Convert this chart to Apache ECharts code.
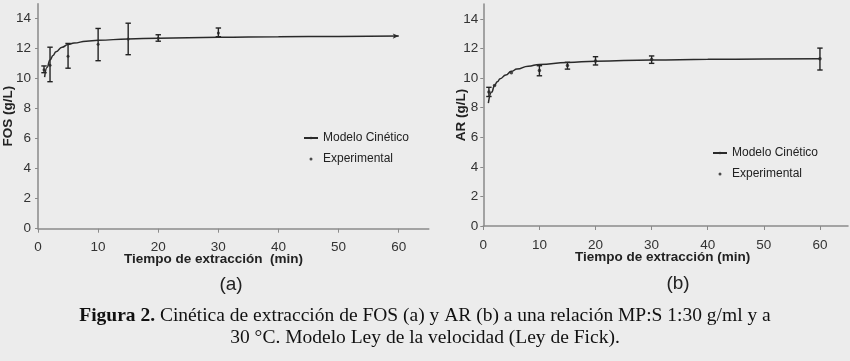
<!DOCTYPE html>
<html>
<head>
<meta charset="utf-8">
<script src="https://cdn.jsdelivr.net/npm/echarts@6/dist/echarts.min.js"></script>
<style>
  html, body { margin: 0; padding: 0; background: #ececec; }
  #main { width: 850px; height: 361px; }
</style>
</head>
<body>
<div id="main"></div>
<script>
// (a) FOS - tiempos (min) y curva del modelo
var tModel = [1.1, 1.5, 2, 2.5, 3, 4, 5, 6, 8, 10, 15, 20, 30, 40, 50, 60];
var fosModel = [10.1, 10.75, 11.25, 11.55, 11.8, 12.1, 12.28, 12.38, 12.5, 12.56, 12.65, 12.7, 12.76, 12.8, 12.82, 12.84];
var fosT = [1, 2, 5, 10, 15, 20, 30];
var fosMean = [10.6, 10.9, 11.5, 12.3, 12.65, 12.7, 13.05];
var fosLow = [10.4, 9.8, 10.7, 11.2, 11.6, 12.5, 12.8];
var fosHigh = [10.85, 12.1, 12.35, 13.35, 13.7, 12.93, 13.38];
// (b) AR
var tModelB = [0.9, 1.5, 2, 2.5, 3, 4, 5, 6, 8, 10, 15, 20, 30, 40, 50, 60];
var arModel = [8.3, 9.05, 9.5, 9.75, 9.95, 10.2, 10.45, 10.6, 10.8, 10.92, 11.05, 11.13, 11.22, 11.26, 11.28, 11.3];
var arT = [1, 2, 5, 10, 15, 20, 30, 60];
var arMean = [9.05, 9.5, 10.35, 10.5, 10.85, 11.15, 11.25, 11.3];
var arLow = [8.75, null, null, 10.15, 10.6, 10.88, 10.99, 10.54];
var arHigh = [9.37, null, null, 10.83, 11.06, 11.44, 11.49, 12.02];
// ejes
var xTicks = [0, 10, 20, 30, 40, 50, 60];
var yTicks = [0, 2, 4, 6, 8, 10, 12, 14];

var font = 'Arial, "Liberation Sans", sans-serif';
var serif = '"Times New Roman", "Liberation Serif", serif';
var txt = '#333';
var axisCol = '#8a8a8a';

function zip(a, b) {
    var out = [];
    for (var i = 0; i < a.length; i++) out.push([a[i], b[i]]);
    return out;
}
function modelData(t, v, arrow) {
    var d = zip(t, v);
    if (arrow) {
        var last = d.pop();
        d.push({ value: last, symbol: 'arrow', symbolSize: [4, 6], symbolRotate: -90 });
    }
    return d;
}
function errData(t, lo, hi) {
    var out = [];
    for (var i = 0; i < t.length; i++) {
        if (lo[i] != null) out.push([t[i], lo[i], hi[i]]);
    }
    return out;
}
//barras de error
function renderErr(params, api) {
    var p1 = api.coord([api.value(0), api.value(1)]);
    var p2 = api.coord([api.value(0), api.value(2)]);
    var c = 2.7;
    var st = { stroke: '#222', lineWidth: 1.4 };
    return {
        type: 'group',
        children: [
            { type: 'line', shape: { x1: p1[0], y1: p1[1], x2: p2[0], y2: p2[1] }, style: st },
            { type: 'line', shape: { x1: p1[0] - c, y1: p1[1], x2: p1[0] + c, y2: p1[1] }, style: st },
            { type: 'line', shape: { x1: p2[0] - c, y1: p2[1], x2: p2[0] + c, y2: p2[1] }, style: st }
        ]
    };
}

function xAxis(idx, namePad) {
    return {
        type: 'value', gridIndex: idx, min: 0, max: 65,
        name: 'Tiempo de extracción' + (idx == 0 ? '  (min)' : ' (min)'),
        nameLocation: 'middle', nameGap: 24, nameMoveOverlap: false,
        nameTextStyle: { fontFamily: font, fontSize: 13.5, fontWeight: 'bold', color: '#222', padding: namePad },
        axisLine: { lineStyle: { color: axisCol, width: 1.5 } },
        axisTick: { length: 4, lineStyle: { color: axisCol }, customValues: xTicks },
        axisLabel: { fontFamily: font, fontSize: 13.5, color: txt, margin: 12, customValues: xTicks },
        splitLine: { show: false }
    };
}
function yAxis(idx, name, margin, gap) {
    return {
        type: 'value', gridIndex: idx, min: 0, max: 15,
        name: name, nameLocation: 'middle', nameGap: gap, nameMoveOverlap: false,
        nameTextStyle: { fontFamily: font, fontSize: 13.5, fontWeight: 'bold', color: '#222' },
        axisLine: { show: true, lineStyle: { color: axisCol, width: 1.5 } },
        axisTick: { show: true, length: 3, lineStyle: { color: axisCol }, customValues: yTicks },
        axisLabel: { fontFamily: font, fontSize: 13.5, color: txt, margin: margin, customValues: yTicks },
        splitLine: { show: false }
    };
}
function legend(idx, left, top) {
    return {
        orient: 'vertical', left: left, top: top,
        itemWidth: 14, itemHeight: 3, itemGap: 7, padding: 0,
        data: idx == 0 ? ['Modelo Cinético', 'Experimental'] : ['Modelo Cinético ', 'Experimental '],
        textStyle: { fontFamily: font, fontSize: 12, color: '#222', lineHeight: 14 },
        selectedMode: false
    };
}

var chart = echarts.init(document.getElementById('main'), null, { renderer: 'canvas' });
var option = {
    backgroundColor: '#ececec',
    animation: false,
    grid: [
        { left: 37.5, top: 3.7, width: 391.3, height: 225 },
        { left: 483.3, top: 4, width: 364.7, height: 222 }
    ],
    xAxis: [xAxis(0, [0, 40, 0, 0]), xAxis(1, [0, 6, 0, 0])],
    yAxis: [yAxis(0, 'FOS (g/L)', 7, 23), yAxis(1, 'AR (g/L)', 5, 15)],
    legend: [legend(0, 303, 131), legend(1, 712, 146)],
    series: [
        {
            name: 'Modelo Cinético', type: 'line', xAxisIndex: 0, yAxisIndex: 0,
            data: modelData(tModel, fosModel, true), smooth: true, smoothMonotone: 'x',
            symbol: 'none', showSymbol: true,
            lineStyle: { color: '#2a2a2a', width: 1.5 }, itemStyle: { color: '#2a2a2a' }
        },
        {
            name: 'Experimental', type: 'scatter', xAxisIndex: 0, yAxisIndex: 0,
            data: zip(fosT, fosMean), symbolSize: 3, itemStyle: { color: '#222' }
        },
        {
            type: 'custom', xAxisIndex: 0, yAxisIndex: 0, renderItem: renderErr,
            data: errData(fosT, fosLow, fosHigh), encode: { x: 0, y: [1, 2] }
        },
        {
            name: 'Modelo Cinético ', type: 'line', xAxisIndex: 1, yAxisIndex: 1,
            data: modelData(tModelB, arModel, false), smooth: true, smoothMonotone: 'x',
            symbol: 'none',
            lineStyle: { color: '#2a2a2a', width: 1.5 }, itemStyle: { color: '#2a2a2a' }
        },
        {
            name: 'Experimental ', type: 'scatter', xAxisIndex: 1, yAxisIndex: 1,
            data: zip(arT, arMean), symbolSize: 3.5, itemStyle: { color: '#222' }
        },
        {
            type: 'custom', xAxisIndex: 1, yAxisIndex: 1, renderItem: renderErr,
            data: errData(arT, arLow, arHigh), encode: { x: 0, y: [1, 2] }
        }
    ],
    graphic: [
        { type: 'text', x: 231, y: 285, style: { text: '(a)', font: '19px ' + font, fill: '#222', align: 'center', verticalAlign: 'middle' } },
        { type: 'text', x: 678, y: 284, style: { text: '(b)', font: '19px ' + font, fill: '#222', align: 'center', verticalAlign: 'middle' } },
        {
            type: 'text', x: 425, y: 316,
            style: {
                text: '{b|Figura 2.}{r| Cinética de extracción de FOS (a) y AR (b) a una relación MP:S 1:30 g/ml y a}',
                align: 'center', verticalAlign: 'middle', fill: '#111',
                rich: {
                    b: { fontFamily: serif, fontSize: 19.5, fontWeight: 'bold', fill: '#111' },
                    r: { fontFamily: serif, fontSize: 19.5, fill: '#111' }
                }
            }
        },
        {
            type: 'text', x: 425, y: 338,
            style: {
                text: '30 °C. Modelo Ley de la velocidad (Ley de Fick).',
                font: '19.5px ' + serif, fill: '#111',
                align: 'center', verticalAlign: 'middle'
            }
        }
    ]
};
chart.setOption(option);
</script>
</body>
</html>
